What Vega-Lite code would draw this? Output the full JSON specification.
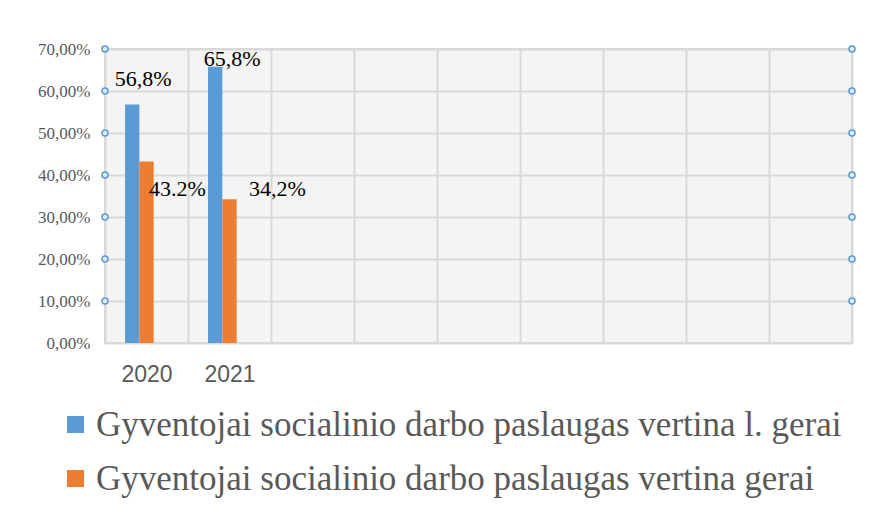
{
  "$schema": "https://vega.github.io/schema/vega-lite/v6.json",
  "width": 747,
  "height": 294,
  "autosize": {"type": "none"},
  "padding": {"left": 105, "top": 49, "right": 21, "bottom": 163},
  "background": "white",
  "config": {
    "view": {"fill": "#f4f4f4", "stroke": "#d9d9d9", "strokeWidth": 2}
  },
  "datasets": {
    "bars": [
      {"year": "2020", "series": "Gyventojai socialinio darbo paslaugas vertina l. gerai", "value": 0.568, "label": "56,8%"},
      {"year": "2020", "series": "Gyventojai socialinio darbo paslaugas vertina gerai", "value": 0.432, "label": "43.2%"},
      {"year": "2021", "series": "Gyventojai socialinio darbo paslaugas vertina l. gerai", "value": 0.658, "label": "65,8%"},
      {"year": "2021", "series": "Gyventojai socialinio darbo paslaugas vertina gerai", "value": 0.342, "label": "34,2%"}
    ],
    "handles": [
      {"v": 0.1}, {"v": 0.2}, {"v": 0.3}, {"v": 0.4}, {"v": 0.5}, {"v": 0.6}, {"v": 0.7}
    ]
  },
  "data": {"name": "bars"},
  "encoding": {
    "x": {
      "field": "year",
      "type": "nominal",
      "scale": {"domain": ["2020", "2021", "c3", "c4", "c5", "c6", "c7", "c8", "c9"], "paddingInner": 0, "paddingOuter": 0},
      "axis": {
        "title": null,
        "labelExpr": "indexof(datum.label, 'c') == 0 ? '' : datum.label",
        "labelAngle": 0,
        "labelFont": "Liberation Sans",
        "labelFontSize": 23,
        "labelColor": "#595959",
        "labelPadding": 20,
        "ticks": false,
        "domain": false,
        "grid": true,
        "tickBand": "extent",
        "gridColor": "#d9d9d9",
        "gridWidth": 2
      }
    },
    "y": {
      "field": "value",
      "type": "quantitative",
      "scale": {"domain": [0, 0.7], "nice": false},
      "axis": {
        "title": null,
        "values": [0, 0.1, 0.2, 0.3, 0.4, 0.5, 0.6, 0.7],
        "format": ".2%",
        "labelExpr": "replace(datum.label, '.', ',')",
        "labelFont": "'Liberation Serif', 'Times New Roman', serif",
        "labelFontSize": 17,
        "labelColor": "#595959",
        "labelPadding": 15,
        "ticks": false,
        "domain": false,
        "gridColor": "#d9d9d9",
        "gridWidth": 2
      }
    }
  },
  "layer": [
    {
      "mark": {"type": "bar"},
      "encoding": {
        "xOffset": {
          "field": "series",
          "type": "nominal",
          "scale": {"domain": ["_p", "Gyventojai socialinio darbo paslaugas vertina l. gerai", "Gyventojai socialinio darbo paslaugas vertina gerai", "_c", "_d"], "paddingInner": 0, "paddingOuter": 0.4}
        },
        "color": {
          "field": "series",
          "type": "nominal",
          "scale": {"domain": ["Gyventojai socialinio darbo paslaugas vertina l. gerai", "Gyventojai socialinio darbo paslaugas vertina gerai"], "range": ["#5b9bd5", "#ed7d31"]},
          "legend": {
            "title": null,
            "orient": "none",
            "legendX": -47,
            "legendY": 358,
            "padding": 0,
            "direction": "vertical",
            "symbolType": "square",
            "symbolSize": 289,
            "symbolStrokeWidth": 0,
            "labelFont": "'Liberation Serif', 'Times New Roman', serif",
            "labelFontSize": 35,
            "labelColor": "#595959",
            "labelOffset": 3,
            "rowPadding": 18,
            "labelLimit": 0
          }
        }
      }
    },
    {
      "transform": [{"filter": "datum.label == '56,8%'"}],
      "mark": {"type": "text", "font": "'Liberation Serif', 'Times New Roman', serif", "fontSize": 22, "color": "black", "align": "center", "baseline": "alphabetic", "dx": 11, "dy": -18},
      "encoding": {
        "xOffset": {"field": "series", "type": "nominal"},
        "text": {"field": "label"}
      }
    },
    {
      "transform": [{"filter": "datum.label == '43.2%'"}],
      "mark": {"type": "text", "font": "'Liberation Serif', 'Times New Roman', serif", "fontSize": 22, "color": "black", "align": "center", "baseline": "alphabetic", "dx": 31, "dy": 34},
      "encoding": {
        "xOffset": {"field": "series", "type": "nominal"},
        "text": {"field": "label"}
      }
    },
    {
      "transform": [{"filter": "datum.label == '65,8%'"}],
      "mark": {"type": "text", "font": "'Liberation Serif', 'Times New Roman', serif", "fontSize": 22, "color": "black", "align": "center", "baseline": "alphabetic", "dx": 17, "dy": -1},
      "encoding": {
        "xOffset": {"field": "series", "type": "nominal"},
        "text": {"field": "label"}
      }
    },
    {
      "transform": [{"filter": "datum.label == '34,2%'"}],
      "mark": {"type": "text", "font": "'Liberation Serif', 'Times New Roman', serif", "fontSize": 22, "color": "black", "align": "center", "baseline": "alphabetic", "dx": 48, "dy": -3},
      "encoding": {
        "xOffset": {"field": "series", "type": "nominal"},
        "text": {"field": "label"}
      }
    },
    {
      "data": {"name": "handles"},
      "mark": {"type": "point", "filled": false, "fill": "#e3eefa", "stroke": "#5b9bd5", "strokeWidth": 1.5, "size": 36, "opacity": 1},
      "encoding": {
        "x": {"datum": "2020", "type": "nominal", "bandPosition": 0},
        "y": {"field": "v", "type": "quantitative"}
      }
    },
    {
      "data": {"name": "handles"},
      "mark": {"type": "point", "filled": false, "fill": "#e3eefa", "stroke": "#5b9bd5", "strokeWidth": 1.5, "size": 36, "opacity": 1},
      "encoding": {
        "x": {"datum": "c9", "type": "nominal", "bandPosition": 1},
        "y": {"field": "v", "type": "quantitative"}
      }
    }
  ]
}
